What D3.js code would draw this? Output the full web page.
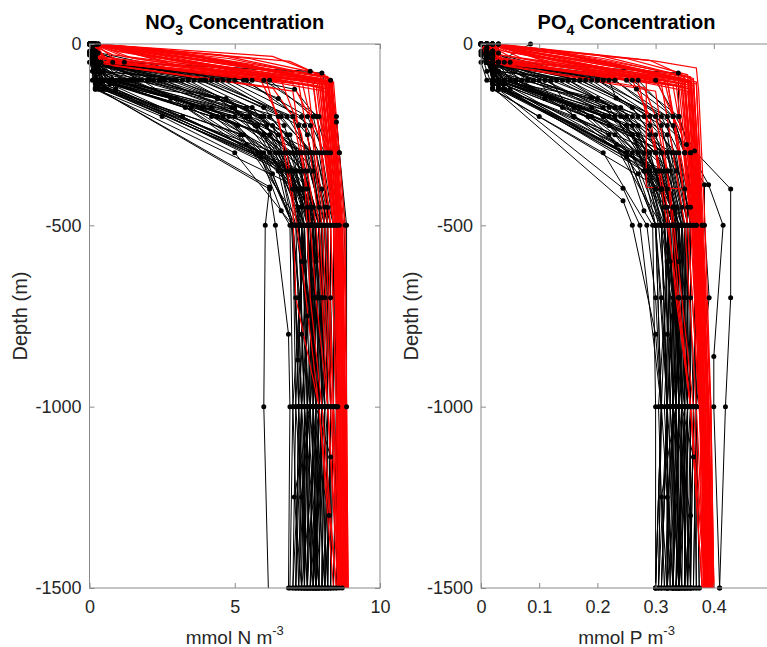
<!DOCTYPE html>
<html><head><meta charset="utf-8">
<script src="https://cdn.jsdelivr.net/npm/d3@7"></script>
<style>body{margin:0;background:#fff}svg{display:block}</style>
</head><body>
<svg id="c" width="767" height="647"></svg>
<script>
// ---------- data (depth m, value) pairs, flattened ----------
const depthTicks = [0, -500, -1000, -1500];
const no3Ticks = [0, 5, 10];
const po4Ticks = [0, 0.1, 0.2, 0.3, 0.4];

const no3Obs = [
 [0,0.1, 10,0.1, 30,0.1, 50,0.2, 100,0.4, 125,0.5, 200,3.2, 300,5.8, 500,7.1, 1000,7.3, 1500,7.2],
 [0,0.0, 20,0.0, 50,0.1, 100,0.2, 300,6.0, 500,7.0, 700,7.2, 1000,7.3, 1500,7.4],
 [0,0.2, 25,0.1, 50,0.3, 75,0.5, 100,1.5, 200,4.4, 300,6.2, 400,7.0, 500,7.4, 1000,7.6, 1500,7.5],
 [0,0.1, 30,0.2, 60,0.3, 100,2.5, 150,4.4, 250,6.5, 500,7.8, 1000,7.9, 1500,7.8],
 [0,0.0, 10,0.1, 50,0.1, 100,0.8, 200,5.5, 400,7.2, 500,7.6, 700,7.8, 1000,7.9, 1500,7.7],
 [0,0.3, 50,0.2, 110,0.2, 250,5.2, 500,7.3, 1000,7.5, 1500,7.4],
 [0,0.1, 25,0.0, 75,0.1, 120,0.2, 400,6.2, 500,6.4, 800,6.85, 1000,6.9, 1500,6.85],
 [0,0.0, 50,0.1, 100,0.1, 125,0.3, 394,6.2, 500,6.05, 1000,6.0, 1800,6.25],
 [0,0.2, 20,0.2, 50,0.3, 100,3.0, 200,5.9, 300,7.2, 500,7.9, 700,8.0, 1000,8.1, 1500,8.0],
 [0,0.1, 30,0.1, 75,0.2, 100,4.2, 200,6.8, 300,7.6, 500,8.2, 1000,8.3, 1500,8.2],
 [0,0.0, 50,0.1, 100,5.0, 150,6.5, 250,7.5, 500,8.1, 1000,8.2, 1500,8.1],
 [0,0.1, 25,0.2, 50,0.2, 100,6.2, 200,7.7, 300,8.0, 500,8.4, 1000,8.5, 1500,8.4],
 [0,0.2, 25,0.3, 50,1.2, 80,8.0, 200,8.5, 300,8.6, 500,8.85, 1000,8.85, 1500,8.7],
 [0,0.1, 20,0.2, 50,0.8, 75,7.6, 100,8.3, 215,8.5, 300,8.6, 500,8.8, 1000,8.55, 1500,8.5],
 [0,0.0, 50,0.1, 100,0.5, 150,4.4, 300,7.0, 500,7.5, 700,7.7, 1000,7.7, 1500,7.6],
 [0,0.2, 25,0.1, 75,0.2, 100,1.0, 200,4.8, 300,6.6, 500,7.2, 1000,7.4, 1500,7.3],
 [0,0.1, 50,0.2, 125,0.6, 250,5.3, 400,7.0, 500,7.4, 1000,7.5, 1500,7.5],
 [0,0.0, 30,0.1, 75,0.3, 100,2.0, 200,5.4, 300,6.9, 500,7.7, 700,7.9, 1000,8.0, 1500,7.9],
 [0,0.1, 50,0.1, 100,3.6, 200,6.2, 300,7.3, 500,7.9, 1000,8.1, 1500,8.0],
 [0,0.3, 20,0.2, 50,0.4, 100,1.8, 277,5.4, 358,6.3, 500,7.0, 1000,7.1, 1500,7.0],
 [0,0.0, 40,0.1, 100,0.3, 200,5.4, 300,6.8, 500,7.5, 1000,7.7, 1500,7.8],
 [0,0.1, 25,0.1, 60,0.2, 100,4.8, 200,7.3, 300,7.9, 500,8.3, 700,8.3, 1000,8.4, 1500,8.3],
 [0,0.2, 50,0.2, 100,5.6, 125,7.06, 200,7.8, 300,8.2, 500,8.5, 1000,8.5, 1500,8.4],
 [0,0.1, 30,0.1, 100,0.6, 150,3.0, 250,6.0, 400,7.3, 500,7.6, 1000,7.8, 1500,7.7],
 [0,0.0, 50,0.0, 100,0.2, 300,5.9, 500,7.0, 1000,7.2, 1500,7.1],
 [0,0.1, 20,0.1, 75,0.2, 120,0.3, 312,5.9, 460,6.6, 500,6.9, 1000,7.0, 1500,6.9],
 [0,0.2, 50,0.3, 100,2.8, 200,6.0, 300,7.1, 500,7.7, 1000,7.8, 1500,7.8],
 [0,0.1, 25,0.2, 75,0.4, 100,3.4, 250,6.9, 500,8.0, 700,8.1, 1000,8.2, 1500,8.2],
 [0,0.0, 50,0.1, 100,1.2, 200,5.5, 300,7.4, 500,8.1, 1000,8.3, 1500,8.3],
 [0,0.1, 30,0.1, 100,0.4, 150,2.8, 300,7.5, 500,8.0, 1000,8.0, 1500,7.9],
 [0,0.2, 50,0.2, 100,4.0, 200,7.0, 400,8.0, 500,8.3, 1000,8.3, 1500,8.2],
 [0,0.1, 25,0.1, 50,0.2, 100,5.3, 200,7.5, 300,8.1, 500,8.5, 1000,8.4, 1500,8.6],
 [0,0.0, 50,0.1, 100,0.3, 200,4.6, 400,7.4, 500,7.6, 1000,7.7, 1500,7.6],
 [0,0.1, 20,0.1, 75,0.2, 100,1.4, 250,6.0, 500,7.4, 1000,7.5, 1500,7.4],
 [0,0.2, 50,0.2, 100,0.9, 200,5.9, 300,7.2, 500,7.8, 700,7.9, 1000,7.9, 1500,7.8],
 [0,0.1, 30,0.2, 100,2.2, 200,6.5, 300,7.7, 500,8.2, 1000,8.2, 1500,8.1],
 [0,0.0, 50,0.1, 125,0.4, 300,6.4, 500,7.3, 800,7.3, 1000,7.4, 1500,7.4],
 [0,0.1, 25,0.1, 100,0.7, 200,5.0, 300,6.7, 500,7.6, 1000,7.6, 1500,7.5],
 [0,0.3, 50,0.3, 100,3.9, 200,6.6, 300,7.6, 500,8.0, 1000,8.1, 1500,8.1],
 [0,0.1, 30,0.1, 100,0.3, 250,6.2, 500,7.7, 700,7.8, 1000,7.7, 1500,7.6],
 [0,0.0, 50,0.2, 100,1.6, 150,4.7, 250,6.8, 500,7.9, 1000,8.0, 1500,8.0],
 [0,0.1, 25,0.1, 75,0.2, 125,0.2, 400,7.3, 500,7.7, 1000,7.8, 1500,7.7],
 [0,0.2, 50,0.2, 100,2.6, 300,7.8, 500,8.4, 1000,8.4, 1500,8.3],
 [0,0.1, 30,0.1, 100,0.5, 200,4.2, 300,6.5, 500,7.4, 871,7.17, 1000,7.2, 1500,7.3],
 [0,0.0, 50,0.1, 100,6.0, 200,7.9, 300,8.3, 500,8.6, 1000,8.5, 1500,8.5],
 [0,0.1, 20,0.2, 100,0.2, 124,0.2, 200,2.5, 300,5.0, 500,7.0, 700,7.1, 1000,7.2, 1500,7.1],
 [0,0.1, 40,0.1, 100,0.3, 175,3.5, 350,6.9, 500,7.3, 1000,7.9, 1500,7.6],
 [0,0.0, 25,0.1, 110,0.4, 350,6.6, 500,7.1, 750,7.5, 1000,7.4, 1500,7.9],
 [0,0.2, 50,0.1, 100,2.0, 175,5.0, 450,7.6, 1000,7.2, 1500,7.5],
 [0,0.1, 30,0.2, 100,0.9, 225,5.8, 400,7.5, 600,7.8, 1000,7.6, 1250,7.3, 1500,7.4],
 [0,0.0, 50,0.1, 120,0.5, 350,7.2, 500,7.8, 1000,7.3, 1500,7.7],
 [0,0.1, 20,0.1, 100,1.1, 175,4.2, 350,7.0, 500,7.2, 1000,8.0, 1500,7.8],
 [0,0.2, 40,0.2, 100,4.4, 225,7.2, 450,7.9, 700,8.0, 1000,7.7, 1500,8.1],
 [0,0.1, 30,0.1, 125,0.6, 350,6.8, 600,7.4, 1000,7.8, 1139,8.3, 1500,8.0],
 [0,0.0, 50,0.1, 100,2.4, 225,6.3, 450,7.3, 1000,7.5, 1500,7.2],
 [0,0.1, 25,0.1, 100,0.5, 175,3.9, 350,6.6, 500,7.0, 1000,7.6, 1249,7.05, 1500,7.3],
 [0,0.2, 50,0.2, 100,3.2, 225,6.7, 450,7.7, 1000,8.2, 1500,7.8],
 [0,0.1, 30,0.1, 110,0.3, 350,7.1, 500,7.4, 1000,7.0, 1500,7.2],
 [0,0.0, 20,0.1, 100,1.7, 175,4.9, 350,7.4, 500,7.9, 1000,7.5, 1300,8.25, 1500,8.1],
 [0,0.1, 50,0.1, 100,0.8, 225,6.1, 450,7.5, 1000,7.8, 1500,7.5],
 [0,0.2, 25,0.2, 100,3.8, 175,6.0, 350,7.7, 500,8.0, 1000,7.6, 1500,7.9],
 [0,0.1, 40,0.1, 125,0.9, 350,6.9, 500,7.6, 1000,8.1, 1500,7.7],
 [0,0.0, 30,0.0, 100,0.6, 225,5.1, 400,7.1, 600,7.3, 1000,7.1, 1500,7.5],
 [0,0.1, 50,0.2, 100,2.1, 175,5.4, 350,7.5, 500,7.7, 1000,7.3, 1500,7.0],
 [0,0.2, 20,0.1, 100,4.6, 225,7.4, 450,8.1, 1000,7.9, 1500,8.2],
 [0,0.1, 30,0.1, 110,0.7, 350,7.3, 500,7.5, 1000,7.9, 1500,7.3],
 [0,0.0, 50,0.1, 100,1.3, 225,5.7, 450,7.2, 1000,7.4, 1500,7.8],
 [0,0.1, 25,0.1, 100,0.4, 175,3.3, 350,6.5, 500,6.95, 1000,7.3, 1500,7.1],
 [0,0.2, 40,0.2, 100,5.4, 225,7.6, 450,8.2, 1000,8.0, 1500,7.7],
 [0,0.1, 30,0.1, 125,0.5, 350,7.0, 500,7.8, 1000,7.5, 1500,7.9],
 [0,0.0, 50,0.1, 100,2.9, 175,5.6, 350,7.3, 500,7.5, 1000,8.1, 1500,7.6]
];

const no3Model = [
 [0,0.1, 20,2.8, 90,8.2, 500,8.6, 1000,8.75, 1500,8.8],
 [0,0.0, 30,4.5, 95,8.3, 500,8.7, 1000,8.8, 1500,8.85],
 [0,0.2, 15,2.5, 100,8.1, 500,8.55, 1000,8.7, 1500,8.75],
 [0,0.1, 34,6.3, 98,8.35, 500,8.75, 1000,8.85, 1500,8.9],
 [0,0.3, 48,6.9, 100,8.3, 500,8.7, 1000,8.8, 1500,8.85],
 [0,0.1, 47,0.2, 102,8.0, 500,8.5, 1000,8.6, 1500,8.7],
 [0,0.2, 40,1.5, 110,8.1, 500,8.55, 1000,8.7, 1500,8.75],
 [0,0.1, 25,3.0, 105,8.2, 500,8.6, 1000,8.7, 1500,8.8],
 [0,0.0, 35,3.8, 95,7.9, 500,8.45, 1000,8.6, 1500,8.65],
 [0,0.2, 30,2.0, 115,8.3, 500,8.65, 1000,8.8, 1500,8.85],
 [0,0.1, 45,2.5, 120,8.2, 500,8.6, 1000,8.75, 1500,8.8],
 [0,0.0, 20,1.0, 100,8.0, 500,8.5, 1000,8.65, 1500,8.7],
 [0,0.3, 40,4.8, 90,8.0, 500,8.5, 1000,8.6, 1500,8.65],
 [0,0.1, 50,3.2, 110,8.35, 500,8.7, 1000,8.8, 1500,8.9],
 [0,0.2, 25,1.8, 125,8.2, 500,8.6, 1000,8.75, 1500,8.8],
 [0,0.0, 30,0.8, 100,7.9, 500,8.4, 1000,8.55, 1500,8.6],
 [0,0.1, 40,5.5, 85,8.1, 500,8.55, 1000,8.7, 1500,8.75],
 [0,0.2, 50,1.0, 115,7.8, 500,8.4, 1000,8.55, 1500,8.6],
 [0,0.1, 35,2.2, 105,8.25, 500,8.65, 1000,8.75, 1500,8.85],
 [0,0.0, 45,4.0, 100,8.15, 500,8.6, 1000,8.7, 1500,8.8],
 [0,0.2, 20,1.6, 95,8.0, 500,8.5, 1000,8.65, 1500,8.7],
 [0,0.1, 30,3.5, 110,8.3, 500,8.7, 1000,8.8, 1500,8.85],
 [0,0.3, 55,2.8, 130,8.1, 500,8.55, 1000,8.7, 1500,8.75],
 [0,0.1, 40,0.5, 105,7.7, 500,8.3, 1000,8.5, 1500,8.55],
 [0,0.0, 25,2.4, 90,7.95, 500,8.45, 1000,8.6, 1500,8.7],
 [0,0.2, 50,5.0, 105,8.4, 500,8.8, 1000,8.85, 1500,8.9],
 [0,0.1, 35,1.2, 120,8.0, 500,8.5, 1000,8.65, 1500,8.7],
 [0,0.0, 30,2.6, 100,8.2, 500,8.6, 1000,8.75, 1500,8.8],
 [0,0.2, 45,3.4, 115,8.25, 500,8.65, 1000,8.8, 1500,8.85],
 [0,0.1, 20,0.9, 110,7.85, 500,8.4, 1000,8.6, 1500,8.65],
 [0,0.1, 40,0.3, 100,5.9, 200,6.5, 450,7.0, 700,7.1, 1000,7.9, 1500,8.5],
 [0,0.0, 50,0.4, 100,6.6, 250,7.3, 500,7.8, 700,8.0, 1000,8.2, 1500,8.6],
 [0,0.2, 45,0.6, 110,7.2, 300,7.6, 500,7.9, 1000,8.3, 1500,8.6],
 [0,0.1, 55,0.5, 120,6.3, 200,7.0, 400,7.5, 700,7.8, 1000,8.2, 1500,8.55],
 [0,0.0, 35,0.3, 100,7.5, 300,7.8, 500,8.1, 1000,8.4, 1500,8.7],
 [0,0.1, 60,0.8, 130,7.0, 350,7.4, 700,7.6, 1000,8.0, 1500,8.5],
 [0,0.2, 40,0.4, 95,6.9, 250,7.9, 500,8.2, 1000,8.4, 1500,8.65],
 [0,0.1, 50,0.7, 115,7.7, 300,8.0, 500,8.3, 1000,8.5, 1500,8.7],
 [0,0.0, 45,0.2, 105,6.1, 300,6.8, 600,7.3, 1000,7.9, 1500,8.4],
 [0,0.1, 50,0.3, 100,7.3, 200,7.6, 500,8.0, 1000,8.35, 1500,8.6]
];

const po4Obs = [
 [0,0.01, 10,0.01, 30,0.01, 50,0.02, 100,0.03, 125,0.04, 200,0.16, 300,0.26, 500,0.31, 1000,0.32, 1500,0.31],
 [0,0.00, 20,0.00, 50,0.01, 100,0.02, 300,0.25, 500,0.30, 700,0.31, 1000,0.32, 1500,0.32],
 [0,0.02, 25,0.01, 50,0.02, 75,0.03, 100,0.06, 200,0.19, 300,0.27, 400,0.30, 500,0.32, 1000,0.33, 1500,0.33],
 [0,0.01, 30,0.02, 60,0.02, 100,0.10, 149,0.12, 250,0.27, 500,0.34, 1000,0.35, 1500,0.34],
 [0,0.00, 10,0.01, 50,0.01, 100,0.04, 200,0.23, 400,0.31, 500,0.33, 700,0.34, 1000,0.34, 1500,0.33],
 [0,0.03, 50,0.02, 110,0.02, 250,0.22, 500,0.31, 1000,0.32, 1500,0.31],
 [0,0.01, 25,0.00, 75,0.01, 120,0.02, 432,0.244, 500,0.26, 800,0.30, 1000,0.31, 1500,0.30],
 [0,0.085, 50,0.03, 100,0.02, 125,0.03, 398,0.244, 500,0.273, 1000,0.31, 1500,0.305],
 [0,0.02, 20,0.02, 50,0.03, 100,0.13, 200,0.26, 300,0.31, 500,0.34, 700,0.35, 1000,0.35, 1500,0.35],
 [0,0.01, 30,0.01, 75,0.02, 100,0.18, 200,0.29, 300,0.33, 500,0.355, 1000,0.36, 1500,0.36],
 [0,0.00, 50,0.01, 100,0.22, 149,0.232, 250,0.32, 500,0.35, 1000,0.355, 1500,0.35],
 [0,0.01, 25,0.02, 50,0.02, 100,0.27, 200,0.33, 300,0.35, 500,0.365, 1000,0.37, 1500,0.365],
 [0,0.02, 25,0.03, 50,0.05, 80,0.339, 200,0.34, 300,0.36, 500,0.38, 1000,0.37, 1500,0.37],
 [0,0.01, 20,0.02, 50,0.04, 100,0.30, 295,0.367, 400,0.429, 700,0.429, 1000,0.42, 1500,0.41],
 [0,0.00, 50,0.01, 100,0.03, 149,0.19, 300,0.30, 500,0.32, 700,0.33, 1000,0.33, 1500,0.33],
 [0,0.02, 25,0.01, 75,0.02, 100,0.05, 200,0.21, 300,0.28, 500,0.31, 1000,0.32, 1500,0.32],
 [0,0.01, 50,0.02, 125,0.04, 250,0.23, 400,0.30, 500,0.32, 1000,0.33, 1500,0.32],
 [0,0.00, 30,0.01, 75,0.02, 100,0.08, 200,0.24, 300,0.30, 500,0.335, 700,0.34, 1000,0.345, 1500,0.34],
 [0,0.01, 50,0.01, 100,0.15, 200,0.27, 300,0.32, 500,0.345, 1000,0.35, 1500,0.35],
 [0,0.03, 20,0.02, 50,0.03, 100,0.07, 277,0.233, 358,0.27, 500,0.30, 1000,0.31, 1500,0.30],
 [0,0.00, 40,0.01, 100,0.02, 200,0.23, 300,0.29, 500,0.325, 1000,0.335, 1500,0.34],
 [0,0.01, 25,0.01, 60,0.02, 100,0.21, 200,0.31, 300,0.34, 500,0.36, 700,0.36, 1000,0.365, 1500,0.36],
 [0,0.02, 50,0.02, 100,0.25, 124,0.267, 200,0.33, 300,0.35, 500,0.37, 1000,0.365, 1500,0.36],
 [0,0.01, 30,0.01, 100,0.04, 149,0.121, 250,0.26, 400,0.31, 500,0.33, 1000,0.34, 1500,0.335],
 [0,0.00, 50,0.00, 100,0.01, 300,0.25, 500,0.30, 1000,0.31, 1500,0.305],
 [0,0.01, 20,0.01, 75,0.02, 120,0.03, 312,0.25, 460,0.28, 500,0.295, 1000,0.30, 1500,0.30],
 [0,0.02, 50,0.03, 100,0.12, 200,0.159, 300,0.30, 500,0.335, 1000,0.34, 1500,0.34],
 [0,0.01, 25,0.02, 75,0.03, 100,0.15, 250,0.30, 500,0.35, 700,0.35, 1000,0.355, 1500,0.355],
 [0,0.00, 50,0.01, 100,0.05, 200,0.184, 300,0.32, 500,0.35, 1000,0.36, 1500,0.36],
 [0,0.01, 30,0.01, 100,0.03, 150,0.11, 300,0.32, 500,0.345, 1000,0.345, 1500,0.34],
 [0,0.02, 50,0.02, 100,0.17, 200,0.30, 400,0.35, 500,0.36, 1000,0.36, 1500,0.355],
 [0,0.01, 25,0.01, 50,0.02, 100,0.23, 200,0.32, 300,0.35, 500,0.37, 1000,0.365, 1500,0.37],
 [0,0.00, 50,0.01, 100,0.03, 200,0.21, 400,0.32, 500,0.33, 1000,0.335, 1500,0.33],
 [0,0.01, 20,0.01, 75,0.02, 100,0.06, 250,0.26, 500,0.32, 1000,0.325, 1500,0.32],
 [0,0.02, 50,0.02, 100,0.04, 200,0.25, 300,0.31, 500,0.34, 700,0.34, 1000,0.345, 1500,0.34],
 [0,0.01, 30,0.02, 100,0.09, 200,0.28, 300,0.335, 500,0.355, 1000,0.355, 1500,0.35],
 [0,0.00, 50,0.01, 125,0.03, 300,0.27, 500,0.315, 800,0.32, 1000,0.32, 1500,0.32],
 [0,0.01, 25,0.01, 100,0.03, 200,0.22, 300,0.29, 500,0.33, 1000,0.33, 1500,0.325],
 [0,0.03, 50,0.03, 100,0.17, 200,0.30, 277,0.353, 388,0.391, 500,0.416, 862,0.40, 1000,0.40, 1500,0.41],
 [0,0.01, 30,0.01, 100,0.02, 250,0.26, 500,0.335, 700,0.34, 1000,0.335, 1500,0.33],
 [0,0.00, 50,0.02, 100,0.07, 150,0.20, 250,0.29, 500,0.345, 1000,0.35, 1500,0.35],
 [0,0.01, 25,0.01, 75,0.02, 125,0.02, 400,0.31, 500,0.33, 1000,0.34, 1500,0.335],
 [0,0.02, 50,0.02, 100,0.11, 300,0.33, 500,0.365, 1000,0.37, 1500,0.375],
 [0,0.01, 30,0.01, 100,0.20, 200,0.32, 388,0.384, 500,0.384, 700,0.392, 1000,0.37, 1500,0.375],
 [0,0.00, 50,0.01, 100,0.26, 200,0.34, 300,0.36, 500,0.38, 1000,0.37, 1500,0.365],
 [0,0.01, 20,0.02, 100,0.02, 124,0.02, 200,0.10, 300,0.21, 500,0.285, 700,0.30, 1000,0.31, 1500,0.30],
 [0,0.01, 40,0.01, 100,0.03, 175,0.16, 350,0.29, 500,0.32, 1000,0.35, 1500,0.335],
 [0,0.00, 25,0.01, 110,0.03, 350,0.28, 500,0.31, 750,0.33, 1000,0.325, 1500,0.345],
 [0,0.02, 50,0.01, 100,0.09, 175,0.22, 450,0.33, 1000,0.315, 1500,0.33],
 [0,0.01, 30,0.02, 100,0.05, 225,0.25, 400,0.32, 600,0.34, 1000,0.335, 1250,0.32, 1500,0.325],
 [0,0.00, 50,0.01, 120,0.03, 350,0.31, 500,0.34, 1000,0.32, 1500,0.34],
 [0,0.01, 20,0.01, 100,0.06, 175,0.19, 350,0.30, 500,0.315, 1000,0.35, 1500,0.345],
 [0,0.02, 40,0.02, 100,0.19, 225,0.31, 450,0.345, 700,0.35, 1000,0.34, 1500,0.355],
 [0,0.01, 30,0.01, 125,0.04, 350,0.29, 600,0.325, 1000,0.345, 1139,0.365, 1500,0.35],
 [0,0.00, 50,0.01, 100,0.11, 225,0.27, 450,0.32, 1000,0.33, 1500,0.315],
 [0,0.01, 25,0.01, 100,0.03, 175,0.17, 350,0.285, 500,0.305, 1000,0.335, 1249,0.31, 1500,0.32],
 [0,0.02, 50,0.02, 100,0.14, 225,0.29, 450,0.335, 1000,0.36, 1500,0.34],
 [0,0.01, 30,0.01, 110,0.02, 350,0.305, 500,0.325, 1000,0.305, 1500,0.315],
 [0,0.00, 20,0.01, 100,0.08, 175,0.21, 350,0.32, 500,0.345, 1000,0.33, 1300,0.36, 1500,0.355],
 [0,0.01, 50,0.01, 100,0.04, 225,0.26, 450,0.33, 1000,0.34, 1500,0.33],
 [0,0.02, 25,0.02, 100,0.16, 175,0.26, 350,0.335, 500,0.35, 1000,0.335, 1500,0.345],
 [0,0.01, 40,0.01, 125,0.05, 350,0.30, 500,0.33, 1000,0.355, 1500,0.34],
 [0,0.00, 30,0.00, 100,0.03, 225,0.22, 400,0.31, 600,0.32, 1000,0.31, 1500,0.33],
 [0,0.01, 50,0.02, 100,0.09, 175,0.23, 350,0.325, 500,0.335, 1000,0.32, 1500,0.305],
 [0,0.02, 20,0.01, 100,0.20, 225,0.32, 450,0.355, 1000,0.345, 1500,0.36],
 [0,0.01, 30,0.01, 110,0.04, 350,0.315, 500,0.33, 1000,0.345, 1500,0.32],
 [0,0.00, 50,0.01, 100,0.06, 225,0.25, 450,0.315, 1000,0.325, 1500,0.34],
 [0,0.01, 25,0.01, 100,0.02, 175,0.14, 350,0.28, 500,0.30, 1000,0.32, 1500,0.31],
 [0,0.02, 40,0.02, 100,0.23, 225,0.33, 450,0.36, 1000,0.35, 1500,0.335],
 [0,0.01, 30,0.01, 125,0.03, 350,0.305, 500,0.34, 1000,0.33, 1500,0.345],
 [0,0.00, 50,0.01, 100,0.12, 175,0.24, 350,0.32, 500,0.33, 1000,0.355, 1500,0.335]
];

const po4Model = [
 [0,0.01, 20,0.13, 90,0.36, 500,0.375, 1000,0.39, 1500,0.395],
 [0,0.00, 30,0.20, 95,0.365, 500,0.38, 1000,0.39, 1500,0.40],
 [0,0.02, 15,0.11, 100,0.355, 500,0.37, 1000,0.385, 1500,0.39],
 [0,0.01, 47,0.30, 66,0.37, 130,0.374, 500,0.385, 1000,0.395, 1500,0.40],
 [0,0.03, 45,0.29, 100,0.365, 500,0.38, 1000,0.39, 1500,0.395],
 [0,0.01, 52,0.01, 102,0.32, 500,0.365, 1000,0.38, 1500,0.385],
 [0,0.02, 40,0.07, 110,0.35, 500,0.37, 1000,0.385, 1500,0.39],
 [0,0.01, 25,0.13, 105,0.36, 500,0.375, 1000,0.39, 1500,0.395],
 [0,0.00, 35,0.17, 95,0.345, 500,0.368, 1000,0.38, 1500,0.385],
 [0,0.02, 30,0.09, 115,0.365, 500,0.378, 1000,0.39, 1500,0.398],
 [0,0.01, 45,0.11, 120,0.36, 500,0.375, 1000,0.388, 1500,0.392],
 [0,0.00, 20,0.04, 100,0.35, 500,0.368, 1000,0.382, 1500,0.388],
 [0,0.03, 40,0.21, 90,0.35, 500,0.37, 1000,0.383, 1500,0.39],
 [0,0.01, 50,0.14, 110,0.37, 500,0.38, 1000,0.395, 1500,0.40],
 [0,0.02, 25,0.08, 125,0.36, 500,0.374, 1000,0.388, 1500,0.394],
 [0,0.00, 30,0.03, 100,0.345, 500,0.365, 1000,0.378, 1500,0.383],
 [0,0.01, 40,0.25, 85,0.355, 500,0.372, 1000,0.386, 1500,0.39],
 [0,0.02, 50,0.04, 115,0.34, 500,0.364, 1000,0.378, 1500,0.382],
 [0,0.01, 35,0.10, 105,0.362, 500,0.377, 1000,0.39, 1500,0.396],
 [0,0.00, 45,0.18, 100,0.357, 500,0.373, 1000,0.386, 1500,0.392],
 [0,0.02, 20,0.07, 95,0.35, 500,0.369, 1000,0.381, 1500,0.387],
 [0,0.01, 30,0.15, 110,0.365, 500,0.379, 1000,0.392, 1500,0.398],
 [0,0.03, 55,0.12, 130,0.355, 500,0.372, 1000,0.385, 1500,0.39],
 [0,0.01, 40,0.02, 105,0.335, 500,0.363, 1000,0.376, 1500,0.38],
 [0,0.00, 25,0.10, 90,0.348, 500,0.367, 1000,0.38, 1500,0.386],
 [0,0.02, 50,0.22, 105,0.37, 500,0.382, 1000,0.394, 1500,0.40],
 [0,0.01, 35,0.05, 120,0.35, 500,0.368, 1000,0.382, 1500,0.387],
 [0,0.00, 30,0.11, 100,0.36, 500,0.376, 1000,0.389, 1500,0.394],
 [0,0.02, 45,0.15, 115,0.362, 500,0.378, 1000,0.391, 1500,0.397],
 [0,0.01, 20,0.04, 110,0.343, 500,0.366, 1000,0.379, 1500,0.384],
 [0,0.01, 40,0.02, 100,0.26, 200,0.29, 450,0.32, 700,0.335, 1000,0.36, 1500,0.385],
 [0,0.00, 50,0.03, 105,0.284, 395,0.284, 400,0.36, 500,0.37, 1000,0.383, 1500,0.39],
 [0,0.02, 45,0.03, 110,0.31, 300,0.33, 500,0.35, 1000,0.37, 1500,0.385],
 [0,0.01, 55,0.03, 120,0.28, 200,0.30, 400,0.325, 700,0.345, 1000,0.365, 1500,0.385],
 [0,0.00, 35,0.02, 100,0.32, 300,0.34, 500,0.355, 1000,0.375, 1500,0.39],
 [0,0.01, 60,0.04, 130,0.30, 350,0.32, 700,0.34, 1000,0.36, 1500,0.38],
 [0,0.02, 40,0.03, 95,0.30, 250,0.345, 500,0.36, 1000,0.377, 1500,0.39],
 [0,0.01, 50,0.04, 115,0.33, 300,0.35, 500,0.362, 1000,0.38, 1500,0.392],
 [0,0.00, 45,0.01, 105,0.27, 300,0.30, 600,0.33, 1000,0.36, 1500,0.38],
 [0,0.01, 50,0.02, 100,0.315, 200,0.33, 500,0.355, 1000,0.375, 1500,0.39]
];

// ---------- drawing ----------
const W = 767, H = 647;
const TOP = 44, BOT = 588;
const FONT = "'Liberation Sans', Arial, Helvetica, sans-serif";
const AXC = "#8a8a8a", TXC = "#262626";

const panels = [
  {id:"no3", title:["NO","3"," Concentration"], xlab:"mmol N m", dom:[0,10], ticks:no3Ticks, obs:no3Obs, mod:no3Model, x0:89.5, x1:380},
  {id:"po4", title:["PO","4"," Concentration"], xlab:"mmol P m", dom:[0,0.5], ticks:po4Ticks, obs:po4Obs, mod:po4Model, x0:481, x1:772}
];

function pairs(a){ const r=[]; for(let i=0;i<a.length;i+=2) r.push({d:a[i], v:a[i+1]}); return r; }

const svg = d3.select("#c");
svg.append("rect").attr("width",W).attr("height",H).attr("fill","#fff");
const y = d3.scaleLinear().domain([0,-1500]).range([TOP,BOT]);

panels.forEach(p => {
  const x = d3.scaleLinear().domain(p.dom).range([p.x0,p.x1]);
  const g = svg.append("g");
  const clipId = "clip-"+p.id;
  svg.append("defs").append("clipPath").attr("id",clipId)
    .append("rect").attr("x",p.x0).attr("y",TOP).attr("width",p.x1-p.x0).attr("height",BOT-TOP);

  const line = d3.line().x(d=>x(d.v)).y(d=>y(-d.d));
  const obs = p.obs.map(pairs), mod = p.mod.map(pairs);
  const lg = g.append("g").attr("clip-path","url(#"+clipId+")");
  lg.selectAll("path.obs").data(obs).join("path").attr("class","obs")
    .attr("d",line).attr("fill","none").attr("stroke","#000").attr("stroke-width",1);
  lg.selectAll("path.mod").data(mod).join("path").attr("class","mod")
    .attr("d",line).attr("fill","none").attr("stroke","#ff0000").attr("stroke-width",1.2);
  const pts = obs.flat().filter(d=>d.d<=1500);
  g.selectAll("circle").data(pts).join("circle")
    .attr("cx",d=>x(d.v)).attr("cy",d=>y(-d.d)).attr("r",2.5).attr("fill","#000");

  // axes (MATLAB box style, ticks inward)
  const ax = svg.append("g").attr("font-family",FONT);
  const bottom = ax.append("g").attr("transform",`translate(0,${BOT})`)
    .call(d3.axisBottom(x).tickValues(p.ticks).tickSizeInner(-5).tickSizeOuter(0).tickPadding(12).tickFormat(d3.format("~g")));
  const topA = ax.append("g").attr("transform",`translate(0,${TOP})`)
    .call(d3.axisTop(x).tickValues(p.ticks).tickSizeInner(-5).tickSizeOuter(0).tickFormat(""));
  const left = ax.append("g").attr("transform",`translate(${p.x0},0)`)
    .call(d3.axisLeft(y).tickValues(depthTicks).tickSizeInner(-5).tickSizeOuter(0).tickPadding(8).tickFormat(d=>d3.format("d")(d).replace("−","-")));
  const right = ax.append("g").attr("transform",`translate(${p.x1},0)`)
    .call(d3.axisRight(y).tickValues(depthTicks).tickSizeInner(-5).tickSizeOuter(0).tickFormat(""));
  [bottom,topA,left,right].forEach(a=>{
    a.select(".domain").remove();
    a.selectAll(".tick line").attr("stroke",AXC);
    a.selectAll(".tick text").attr("fill",TXC).attr("font-size",18).attr("font-family",FONT);
  });
  ax.append("rect").attr("x",p.x0).attr("y",TOP).attr("width",p.x1-p.x0).attr("height",BOT-TOP)
    .attr("fill","none").attr("stroke",AXC).attr("stroke-width",1);

  const cx = (p.x0+p.x1)/2;
  // title
  const t = svg.append("text").attr("x",cx).attr("y",29).attr("text-anchor","middle")
    .attr("font-family",FONT).attr("font-weight","bold").attr("font-size",20).attr("fill","#000");
  t.append("tspan").text(p.title[0]);
  t.append("tspan").attr("font-size",14).attr("dy",6).text(p.title[1]);
  t.append("tspan").attr("dy",-6).text(p.title[2]);
  // x label
  const xl = svg.append("text").attr("x",cx).attr("y",644).attr("text-anchor","middle")
    .attr("font-family",FONT).attr("font-size",19).attr("fill",TXC);
  xl.append("tspan").text(p.xlab);
  xl.append("tspan").attr("font-size",13).attr("dy",-9).text("-3");
  // y label
  svg.append("text").attr("transform",`translate(${p.x0-63},${(TOP+BOT)/2}) rotate(-90)`)
    .attr("text-anchor","middle").attr("font-family",FONT).attr("font-size",20).attr("fill",TXC)
    .text("Depth (m)");
});
</script>
</body></html>
